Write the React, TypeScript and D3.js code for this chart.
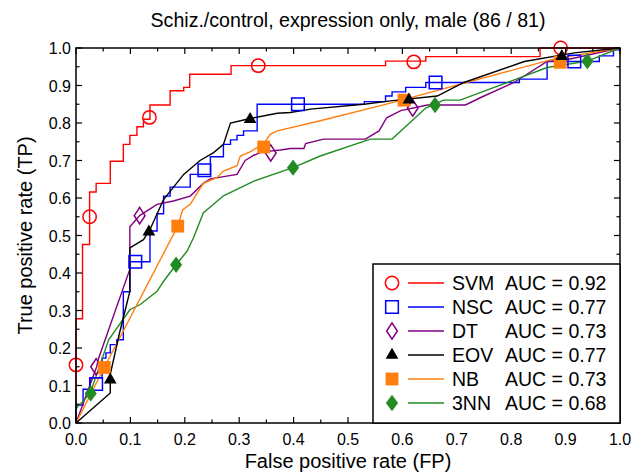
import React from 'react';
import * as d3 from 'd3';

const W = 635;
const H = 474;
const M = { left: 76, right: 15, top: 48, bottom: 51 };

const title = 'Schiz./control, expression only, male (86 / 81)';
const xLabel = 'False positive rate (FP)';
const yLabel = 'True positive rate (TP)';
const tickValues = [0, 0.1, 0.2, 0.3, 0.4, 0.5, 0.6, 0.7, 0.8, 0.9, 1.0];
const minorTickValues = [0.05, 0.15, 0.25, 0.35, 0.45, 0.55, 0.65, 0.75, 0.85, 0.95];

const names = ['SVM', 'NSC', 'DT', 'EOV', 'NB', '3NN'];
const aucs = ['0.92', '0.77', '0.73', '0.77', '0.73', '0.68'];

// SVM (step curve corners)
const svmFP = [0, 0, 0.012, 0.025, 0.037, 0.063, 0.087, 0.099, 0.112, 0.124, 0.136, 0.173, 0.198, 0.209, 0.285, 0.569, 0.643, 0.853, 1];
const svmTP = [0, 0.278, 0.476, 0.616, 0.639, 0.698, 0.743, 0.767, 0.79, 0.81, 0.848, 0.886, 0.895, 0.93, 0.953, 0.965, 0.977, 1.0, 1];
const svmMarkFP = [0, 0.025, 0.135, 0.335, 0.621, 0.891];
const svmMarkTP = [0.155, 0.55, 0.815, 0.953, 0.963, 1.0];

// NSC (step curve corners)
const nscFP = [0, 0, 0.013, 0.026, 0.048, 0.055, 0.063, 0.075, 0.087, 0.099, 0.136, 0.149, 0.161, 0.173, 0.21, 0.247, 0.271, 0.284, 0.296, 0.308, 0.333, 0.53, 0.569, 0.581, 0.606, 0.643, 0.815, 0.866, 0.962, 0.988, 1];
const nscTP = [0, 0.048, 0.09, 0.12, 0.173, 0.187, 0.209, 0.222, 0.35, 0.43, 0.512, 0.558, 0.605, 0.629, 0.663, 0.71, 0.743, 0.755, 0.767, 0.779, 0.85, 0.857, 0.872, 0.883, 0.895, 0.908, 0.917, 0.964, 0.979, 0.995, 1];
const nscMarkFP = [0.037, 0.109, 0.236, 0.408, 0.661, 0.916];
const nscMarkTP = [0.104, 0.43, 0.674, 0.85, 0.908, 0.964];

// DT
const dtFP = [0, 0.038, 0.041, 0.099, 0.099, 0.117, 0.149, 0.179, 0.21, 0.234, 0.247, 0.296, 0.311, 0.327, 0.342, 0.376, 0.394, 0.419, 0.422, 0.455, 0.532, 0.557, 0.571, 0.597, 0.646, 0.716, 0.744, 0.805, 0.866, 0.9, 1];
const dtTP = [0, 0.15, 0.17, 0.41, 0.523, 0.553, 0.583, 0.592, 0.605, 0.639, 0.651, 0.663, 0.7, 0.714, 0.723, 0.728, 0.732, 0.732, 0.745, 0.757, 0.757, 0.779, 0.814, 0.833, 0.848, 0.848, 0.868, 0.908, 0.964, 0.968, 1];
const dtMarkFP = [0.037, 0.117, 0.358, 0.619];
const dtMarkTP = [0.15, 0.553, 0.72, 0.84];

// EOV
const eovFP = [0, 0.063, 0.063, 0.08, 0.099, 0.099, 0.124, 0.136, 0.161, 0.198, 0.228, 0.253, 0.271, 0.284, 0.32, 0.37, 0.394, 0.431, 0.529, 0.578, 0.664, 0.713, 0.824, 0.916, 1];
const eovTP = [0, 0.08, 0.13, 0.24, 0.351, 0.467, 0.489, 0.516, 0.596, 0.663, 0.7, 0.721, 0.743, 0.8, 0.812, 0.826, 0.828, 0.837, 0.85, 0.859, 0.872, 0.908, 0.964, 0.987, 1];
const eovMarkFP = [0.063, 0.134, 0.32, 0.612, 0.893];
const eovMarkTP = [0.115, 0.51, 0.81, 0.862, 0.978];

// NB
const nbFP = [0, 0.052, 0.187, 0.196, 0.21, 0.234, 0.259, 0.271, 0.296, 0.302, 0.32, 0.345, 0.357, 0.37, 0.449, 0.578, 0.879, 1];
const nbTP = [0, 0.148, 0.525, 0.568, 0.583, 0.639, 0.654, 0.672, 0.686, 0.712, 0.723, 0.745, 0.77, 0.779, 0.806, 0.853, 0.971, 1];
const nbMarkFP = [0.052, 0.187, 0.345, 0.603, 0.89];
const nbMarkTP = [0.148, 0.525, 0.736, 0.861, 0.962];

// 3NN
const knnFP = [0, 0.001, 0.026, 0.06, 0.099, 0.118, 0.149, 0.161, 0.184, 0.204, 0.216, 0.234, 0.271, 0.327, 0.399, 0.449, 0.541, 0.581, 0.643, 0.676, 0.706, 0.866, 0.94, 1];
const knnTP = [0.035, 0.04, 0.079, 0.222, 0.302, 0.316, 0.351, 0.378, 0.422, 0.458, 0.494, 0.56, 0.606, 0.645, 0.681, 0.712, 0.757, 0.757, 0.84, 0.861, 0.861, 0.948, 0.965, 1];
const knnMarkFP = [0.027, 0.184, 0.399, 0.66, 0.94];
const knnMarkTP = [0.079, 0.422, 0.681, 0.848, 0.965];

// a diamond symbol that is a bit wider than d3's own
const makeDiamond = (ratio: number): d3.SymbolType => ({
  draw(context: any, size: number) {
    const h = Math.sqrt(size / (2 * ratio));
    const w = h * ratio;
    context.moveTo(0, -h);
    context.lineTo(w, 0);
    context.lineTo(0, h);
    context.lineTo(-w, 0);
    context.closePath();
  },
});

type Series = {
  name: string; auc: string; color: string; fp: number[]; tp: number[];
  mfp: number[]; mtp: number[]; symbol: d3.SymbolType; size: number; filled: boolean; step: boolean;
};

const series: Series[] = [
  { name: names[0], auc: aucs[0], color: '#ff0000', fp: svmFP, tp: svmTP, mfp: svmMarkFP, mtp: svmMarkTP, symbol: d3.symbolCircle, size: 140, filled: false, step: true },
  { name: names[1], auc: aucs[1], color: '#0000ff', fp: nscFP, tp: nscTP, mfp: nscMarkFP, mtp: nscMarkTP, symbol: d3.symbolSquare, size: 160, filled: false, step: true },
  { name: names[2], auc: aucs[2], color: '#800080', fp: dtFP, tp: dtTP, mfp: dtMarkFP, mtp: dtMarkTP, symbol: makeDiamond(0.66), size: 88, filled: false, step: false },
  { name: names[3], auc: aucs[3], color: '#000000', fp: eovFP, tp: eovTP, mfp: eovMarkFP, mtp: eovMarkTP, symbol: d3.symbolTriangle, size: 70, filled: true, step: false },
  { name: names[4], auc: aucs[4], color: '#ff7f0e', fp: nbFP, tp: nbTP, mfp: nbMarkFP, mtp: nbMarkTP, symbol: d3.symbolSquare, size: 165, filled: true, step: false },
  { name: names[5], auc: aucs[5], color: '#228b22', fp: knnFP, tp: knnTP, mfp: knnMarkFP, mtp: knnMarkTP, symbol: makeDiamond(0.74), size: 100, filled: true, step: false },
];

const drawOrder = [0, 1, 2, 5, 4, 3];
const FONT = 'Liberation Sans, Arial, Helvetica, sans-serif';

export default function App() {
  const x = d3.scaleLinear().domain([0, 1]).range([M.left, W - M.right]);
  const y = d3.scaleLinear().domain([0, 1]).range([H - M.bottom, M.top]);
  const fmt = d3.format('.1f');
  const x0 = x(0), x1 = x(1), y0 = y(0), y1 = y(1);

  const lineFor = (s: Series) =>
    d3.line<number>()
      .x((_, i) => x(s.fp[i]))
      .y((d) => y(d))
      .curve(s.step ? d3.curveStepAfter : d3.curveLinear)(s.tp) || '';

  const legendX = 373, legendY = 264;
  const rowY = (i: number) => legendY + 19 + i * 24;

  return (
    <svg width={W} height={H} style={{ position: 'absolute', left: 0, top: 0, background: '#fff' }} fontFamily={FONT}>
      <rect x={0} y={0} width={W} height={H} fill="#fff" />
      <text x={(x0 + x1) / 2} y={27} textAnchor="middle" fontSize={19.6}>{title}</text>

      {/* curves */}
      {drawOrder.map((k) => {
        const s = series[k];
        return <path key={'l' + k} d={lineFor(s)} fill="none" stroke={s.color} strokeWidth={1.4} strokeLinejoin="miter" />;
      })}
      {drawOrder.map((k) => {
        const s = series[k];
        const p = d3.symbol().type(s.symbol).size(s.size)() || '';
        return (
          <g key={'m' + k}>
            {s.mfp.map((v, i) => (
              <path key={i} d={p} transform={`translate(${x(v)},${y(s.mtp[i])})`}
                fill={s.filled ? s.color : 'none'} stroke={s.filled ? 'none' : s.color} strokeWidth={1.5} />
            ))}
          </g>
        );
      })}

      {/* frame */}
      <rect x={x0} y={y1} width={x1 - x0} height={y0 - y1} fill="none" stroke="#000" strokeWidth={1.5} />
      {tickValues.map((t) => (
        <g key={'t' + t} stroke="#000" strokeWidth={1.2}>
          <line x1={x(t)} x2={x(t)} y1={y0} y2={y0 - 6} />
          <line x1={x(t)} x2={x(t)} y1={y1} y2={y1 + 6} />
          <line x1={x0} x2={x0 + 6} y1={y(t)} y2={y(t)} />
          <line x1={x1} x2={x1 - 6} y1={y(t)} y2={y(t)} />
        </g>
      ))}
      {minorTickValues.map((t) => (
        <g key={'mt' + t} stroke="#000" strokeWidth={1.2}>
          <line x1={x(t)} x2={x(t)} y1={y0} y2={y0 - 3.5} />
          <line x1={x(t)} x2={x(t)} y1={y1} y2={y1 + 3.5} />
          <line x1={x0} x2={x0 + 3.5} y1={y(t)} y2={y(t)} />
          <line x1={x1} x2={x1 - 3.5} y1={y(t)} y2={y(t)} />
        </g>
      ))}
      {tickValues.map((t) => (
        <text key={'xl' + t} x={x(t)} y={y0 + 22} textAnchor="middle" fontSize={16}>{fmt(t)}</text>
      ))}
      {tickValues.map((t) => (
        <text key={'yl' + t} x={x0 - 5} y={y(t) + 6} textAnchor="end" fontSize={16}>{fmt(t)}</text>
      ))}
      <text x={(x0 + x1) / 2} y={468} textAnchor="middle" fontSize={20}>{xLabel}</text>
      <text transform={`translate(32,${(y0 + y1) / 2}) rotate(-90)`} textAnchor="middle" fontSize={20}>{yLabel}</text>

      {/* legend */}
      <rect x={legendX} y={legendY} width={x1 - legendX} height={y0 - legendY} fill="#fff" stroke="#000" strokeWidth={1.5} />
      {series.map((s, i) => {
        const p = d3.symbol().type(s.symbol).size(s.size)() || '';
        const cy = rowY(i);
        return (
          <g key={'lg' + i}>
            <path d={p} transform={`translate(392,${cy})`} fill={s.filled ? s.color : 'none'} stroke={s.filled ? 'none' : s.color} strokeWidth={1.5} />
            <line x1={408} x2={444} y1={cy} y2={cy} stroke={s.color} strokeWidth={1.4} />
            <text x={452} y={cy + 7} fontSize={19.5}>{s.name}</text>
            <text x={505} y={cy + 7} fontSize={19.5}>{`AUC = ${s.auc}`}</text>
          </g>
        );
      })}
    </svg>
  );
}
